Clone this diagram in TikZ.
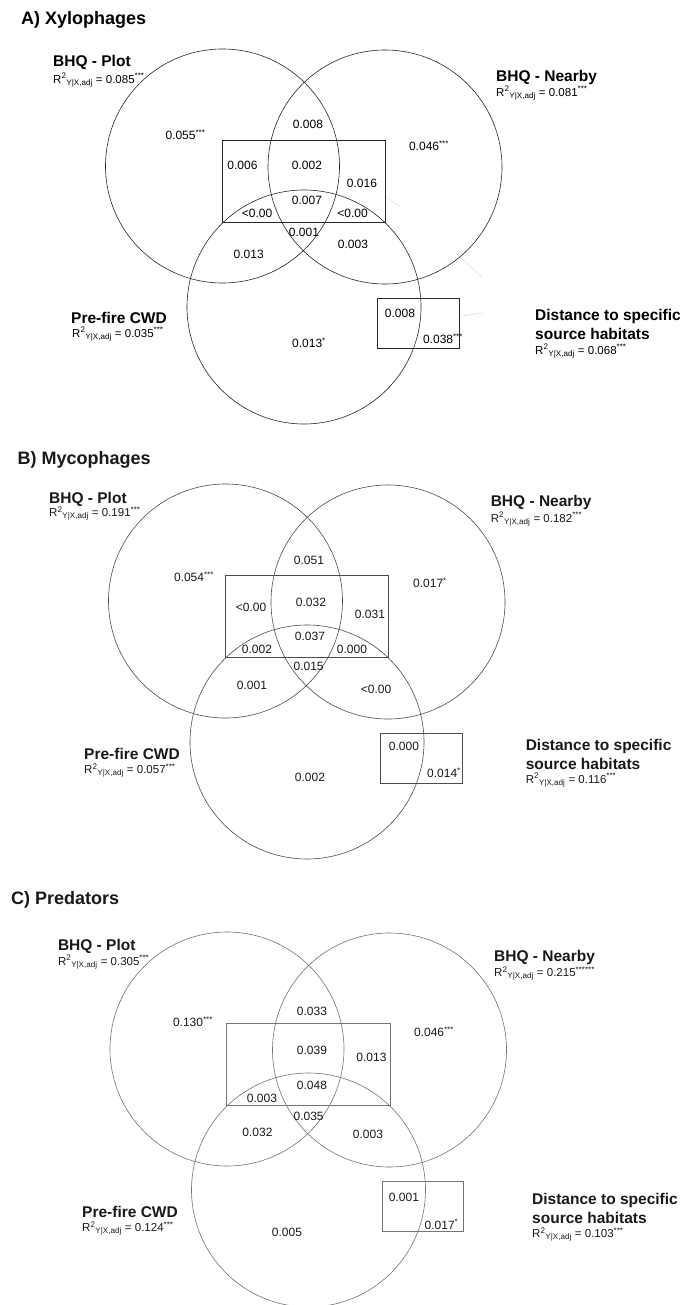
\documentclass[tikz,border=0pt]{standalone}
\usepackage{fontspec}
\setmainfont{Liberation Sans}

\newcommand{\sig}[1]{\textsuperscript{#1}}
\newcommand{\rsq}[1]{R\textsuperscript{2}\textsubscript{Y|X,adj} = #1}

% circles and boxes of one panel, in panel coordinates
\newcommand{\vennshapes}{%
  \draw[setcircle] (222.5,166) circle [radius=117];
  \draw[setcircle] (385,167) circle [radius=117];
  \draw[setcircle] (304,307) circle [radius=117];
  \draw[partbox] (222,140) rectangle (385.5,222.5);
  \draw[partbox] (377.5,298) rectangle (459,348);
}

\tikzset{
  heading/.style={anchor=west, inner sep=0pt, font=\fontsize{18}{18}\selectfont\bfseries},
  setname/.style={anchor=west, inner sep=0pt, align=left, font=\fontsize{15.5}{19}\selectfont\bfseries},
  rsqlabel/.style={anchor=west, inner sep=0pt, font=\fontsize{11.5}{11.5}\selectfont},
  share/.style={inner sep=0pt, font=\fontsize{12}{12}\selectfont},
  setcircle/.style={line width=0.6pt},
  partbox/.style={line width=0.6pt}
}

\begin{document}
\begin{tikzpicture}[x=1pt, y=-1pt]
  \useasboundingbox[fill=white] (0,0) rectangle (685,1305);

  % A) Xylophages
  \begin{scope}[draw=black!85]
    \vennshapes
    \draw[gray!35, thin] (386,197) -- (401,207);
    \draw[gray!35, thin] (455.5,253) -- (482,277);
    \draw[gray!35, thin] (462,316) -- (482,313);
  \end{scope}
  \node[heading] (atitle) at (21,20) {A) Xylophages};
  \node[setname] (aplot) at (53,62) {BHQ - Plot};
  \node[rsqlabel] (aplotr) at (53,80) {\rsq{0.085\sig{***}}};
  \node[setname] (anear) at (496,77) {BHQ - Nearby};
  \node[rsqlabel] (anearr) at (496,93) {\rsq{0.081\sig{***}}};
  \node[setname] (acwd) at (71,318) {Pre-fire CWD};
  \node[rsqlabel] (acwdr) at (72,334) {\rsq{0.035\sig{***}}};
  \node[setname] (adist) at (535,324.5) {Distance to specific\\source habitats};
  \node[rsqlabel] (adistr) at (535,351) {\rsq{0.068\sig{***}}};
  \foreach \px/\py/\val [count=\k] in {185.5/135/0.055\sig{***}, 308/124/0.008,
      429/146/0.046\sig{***}, 242.5/165/0.006, 307/165/0.002, 362/183/0.016,
      307/200.5/0.007, 257/213.5/<0.00, 352.5/213/<0.00, 304/232.8/0.001,
      248.7/254.7/0.013, 353/244.7/0.003, 309/343/0.013\sig{*},
      400/313/0.008, 443/339/0.038\sig{***}}
    \node[share] (a\k) at (\px,\py) {\val};

  % B) Mycophages
  \begin{scope}[shift={(3,435)}, draw=black!70]
    \vennshapes
  \end{scope}
  \begin{scope}[text=black!90]
    \node[heading] (btitle) at (17.5,460) {B) Mycophages};
    \node[setname] (bplot) at (49,499) {BHQ - Plot};
    \node[rsqlabel] (bplotr) at (49,513.5) {\rsq{0.191\sig{***}}};
    \node[setname] (bnear) at (490.6,502.7) {BHQ - Nearby};
    \node[rsqlabel] (bnearr) at (490.6,519) {\rsq{0.182\sig{***}}};
    \node[setname] (bcwd) at (84,754.3) {Pre-fire CWD};
    \node[rsqlabel] (bcwdr) at (84,770.5) {\rsq{0.057\sig{***}}};
    \node[setname] (bdist) at (525.6,754) {Distance to specific\\source habitats};
    \node[rsqlabel] (bdistr) at (525.6,780) {\rsq{0.116\sig{***}}};
    \foreach \px/\py/\val [count=\k] in {309/560.7/0.051, 194/576.7/0.054\sig{***},
        430/582.7/0.017\sig{*}, 251/607/<0.00, 311/602.7/0.032, 370/614.3/0.031,
        310/636/0.037, 257/649/0.002, 352/649/0.000, 308.6/666.7/0.015,
        252/685/0.001, 376/689/<0.00, 404/746/0.000, 444/772.7/0.014\sig{*},
        310/777.7/0.002}
      \node[share] (b\k) at (\px,\py) {\val};
  \end{scope}

  % C) Predators
  \begin{scope}[shift={(4.5,883)}, draw=black!55]
    \vennshapes
  \end{scope}
  \begin{scope}[text=black!90]
    \node[heading] (ctitle) at (11,900) {C) Predators};
    \node[setname] (cplot) at (57.8,946) {BHQ - Plot};
    \node[rsqlabel] (cplotr) at (57.8,962) {\rsq{0.305\sig{***}}};
    \node[setname] (cnear) at (494,957.3) {BHQ - Nearby};
    \node[rsqlabel] (cnearr) at (494,973.5) {\rsq{0.215\sig{******}}};
    \node[setname] (ccwd) at (82,1211.7) {Pre-fire CWD};
    \node[rsqlabel] (ccwdr) at (82,1228.5) {\rsq{0.124\sig{***}}};
    \node[setname] (cdist) at (532,1208) {Distance to specific\\source habitats};
    \node[rsqlabel] (cdistr) at (532,1234.5) {\rsq{0.103\sig{***}}};
    \foreach \px/\py/\val [count=\k] in {312/1011/0.033, 193/1021.7/0.130\sig{***},
        434/1031.7/0.046\sig{***}, 312/1050.7/0.039, 371.5/1057.7/0.013,
        312/1085/0.048, 262/1098.3/0.003, 308.6/1116/0.035, 257.5/1132.7/0.032,
        368/1134.3/0.003, 404/1197.7/0.001, 441.5/1224.3/0.017\sig{*},
        287/1232.7/0.005}
      \node[share] (c\k) at (\px,\py) {\val};
  \end{scope}
\end{tikzpicture}
\end{document}
